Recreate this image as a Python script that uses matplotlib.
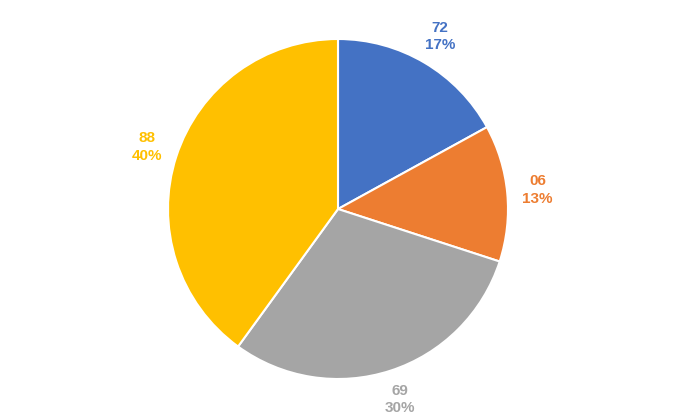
import numpy as np
import matplotlib
matplotlib.use("Agg")
import matplotlib.pyplot as plt

categories = ["72", "06", "69", "88"]
values = [17, 13, 30, 40]
colors = ["#4472C4", "#ED7D31", "#A5A5A5", "#FFC000"]

fig = plt.figure(figsize=(6.75, 4.19), dpi=100)
ax = fig.add_axes([(338 - 170) / 675, (419 - 209 - 170) / 419, 340 / 675, 340 / 419])
wedges, _ = ax.pie(values, colors=colors, startangle=90, counterclock=False,
                   wedgeprops=dict(edgecolor="white", linewidth=1.5))
ax.set_xlim(-1, 1); ax.set_ylim(-1, 1)
ax.set_aspect("equal")
total = sum(values)
for w, cat, v, c in zip(wedges, categories, values, colors):
    ang = np.deg2rad((w.theta1 + w.theta2) / 2)
    r = 1.18
    ax.text(r * np.cos(ang), r * np.sin(ang), f"{cat}\n{round(100*v/total)}%",
            ha="center", va="center", color=c, fontsize=11, fontweight="bold",
            family="Liberation Sans", linespacing=1.3, clip_on=False)
fig.savefig("out.png", dpi=100)
